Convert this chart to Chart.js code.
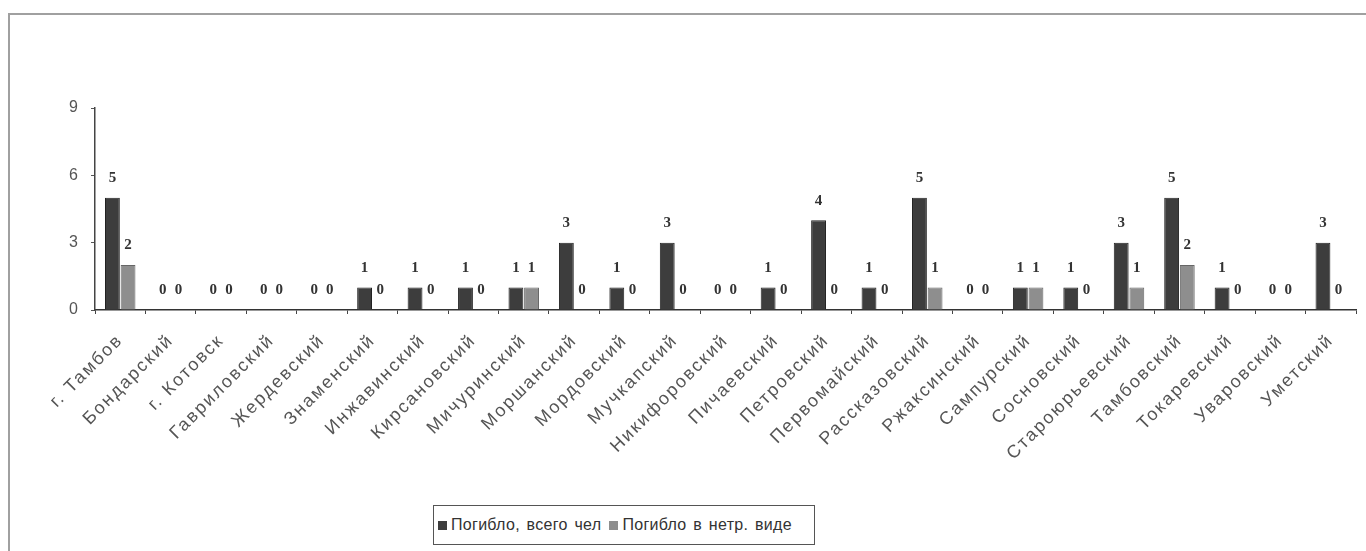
<!DOCTYPE html>
<html lang="ru">
<head>
<meta charset="utf-8">
<title>Погибло</title>
<script src="https://cdn.jsdelivr.net/npm/chart.js@4.4.0/dist/chart.umd.min.js"></script>
<style>
    html, body { margin: 0; padding: 0; background: #fff; overflow: hidden; }
    body { width: 1366px; height: 551px; position: relative; }
    .frame {
        position: absolute; left: 8px; top: 13px; width: 1400px; height: 600px;
        border: 2px solid #a0a0a0; box-sizing: border-box;
    }
    .chart-box { position: absolute; left: 0; top: 0; width: 1366px; height: 551px; }
    .legend {
        position: absolute; left: 433px; top: 505px; width: 382px; height: 40px;
        border: 1px solid #555; box-sizing: border-box; background: #fff;
        font: 16px "Liberation Sans", Arial, sans-serif; color: #333;
        letter-spacing: 0.3px; word-spacing: 2px;
        display: flex; align-items: center; padding-left: 4px; white-space: nowrap;
    }
    .legend span.sw { display: inline-block; width: 9px; height: 9px; margin-right: 4px; }
    .legend span.item { margin-right: 8px; display: inline-flex; align-items: center; }
</style>
</head>
<body>
<div class="frame"></div>
<div class="chart-box"><canvas id="chart"></canvas></div>
<div class="legend" id="legend"></div>

<script>
// -------------------------
// Data
// -------------------------
const districts = [
    'г. Тамбов', 'Бондарский', 'г. Котовск', 'Гавриловский', 'Жердевский',
    'Знаменский', 'Инжавинский', 'Кирсановский', 'Мичуринский', 'Моршанский',
    'Мордовский', 'Мучкапский', 'Никифоровский', 'Пичаевский', 'Петровский',
    'Первомайский', 'Рассказовский', 'Ржаксинский', 'Сампурский', 'Сосновский',
    'Староюрьевский', 'Тамбовский', 'Токаревский', 'Уваровский', 'Уметский'
];
const diedTotal  = [5, 0, 0, 0, 0, 1, 1, 1, 1, 3, 1, 3, 0, 1, 4, 1, 5, 0, 1, 1, 3, 5, 1, 0, 3];
const diedDrunk  = [2, 0, 0, 0, 0, 0, 0, 0, 1, 0, 0, 0, 0, 0, 0, 0, 1, 0, 1, 0, 1, 2, 0, 0, 0];
const seriesNames = ['Погибло, всего чел', 'Погибло в нетр. виде'];
const yTicks = [0, 3, 6, 9];

const colors = ['#3d3d3d', '#8e8e8e'];

// -------------------------
// Wider letter spacing for the axis text (old scanned Excel look)
// -------------------------
const spacing = {
    id: 'spacing',
    beforeDraw(chart) { chart.ctx.letterSpacing = '2px'; }
};

// -------------------------
// Value labels above bars
// -------------------------
const valueLabels = {
    id: 'valueLabels',
    afterDatasetsDraw(chart) {
        const ctx = chart.ctx;
        ctx.save();
        ctx.letterSpacing = '0px';
        ctx.font = 'bold 15px "Liberation Serif", "Times New Roman", serif';
        ctx.fillStyle = '#333';
        ctx.textAlign = 'center';
        ctx.textBaseline = 'bottom';
        chart.data.datasets.forEach((ds, i) => {
            chart.getDatasetMeta(i).data.forEach((bar, j) => {
                ctx.fillText(String(ds.data[j]), bar.x, bar.y - 12);
            });
        });
        ctx.restore();
    }
};

const chart = new Chart(document.getElementById('chart'), {
    type: 'bar',
    data: {
        labels: districts,
        datasets: [
            { label: seriesNames[0], data: diedTotal, backgroundColor: colors[0], borderColor: '#222', borderWidth: 1 },
            { label: seriesNames[1], data: diedDrunk, backgroundColor: colors[1], borderColor: '#666', borderWidth: 1 }
        ]
    },
    options: {
        responsive: true,
        maintainAspectRatio: false,
        animation: false,
        categoryPercentage: 0.62,
        barPercentage: 0.95,
        layout: { padding: { top: 108, right: 10, bottom: 71, left: 0 } },
        plugins: {
            legend: { display: false },
            tooltip: { enabled: false }
        },
        scales: {
            x: {
                grid: { display: true, drawOnChartArea: false, tickLength: 4, color: '#444', offset: true },
                border: { color: '#333', width: 1.5 },
                ticks: {
                    minRotation: 45, maxRotation: 45, autoSkip: false,
                    color: '#555', padding: 16,
                    font: { family: '"Liberation Sans", Arial, sans-serif', size: 18 }
                },
                afterFit(scale) { scale.height = 170; }
            },
            y: {
                min: 0, max: 9,
                afterBuildTicks(scale) { scale.ticks = yTicks.map(v => ({ value: v })); },
                grid: { display: true, drawOnChartArea: false, tickLength: 4, color: '#555' },
                border: { color: '#444', width: 1.5 },
                ticks: {
                    color: '#555', padding: 11,
                    font: { family: '"Liberation Sans", Arial, sans-serif', size: 16 }
                },
                afterFit(scale) { scale.width = 95; }
            }
        }
    },
    plugins: [spacing, valueLabels]
});

// -------------------------
// Legend (boxed, under the chart)
// -------------------------
const legend = document.getElementById('legend');
chart.data.datasets.forEach(ds => {
    const item = document.createElement('span');
    item.className = 'item';
    const sw = document.createElement('span');
    sw.className = 'sw';
    sw.style.background = ds.backgroundColor;
    item.appendChild(sw);
    item.appendChild(document.createTextNode(ds.label));
    legend.appendChild(item);
});
</script>
</body>
</html>
